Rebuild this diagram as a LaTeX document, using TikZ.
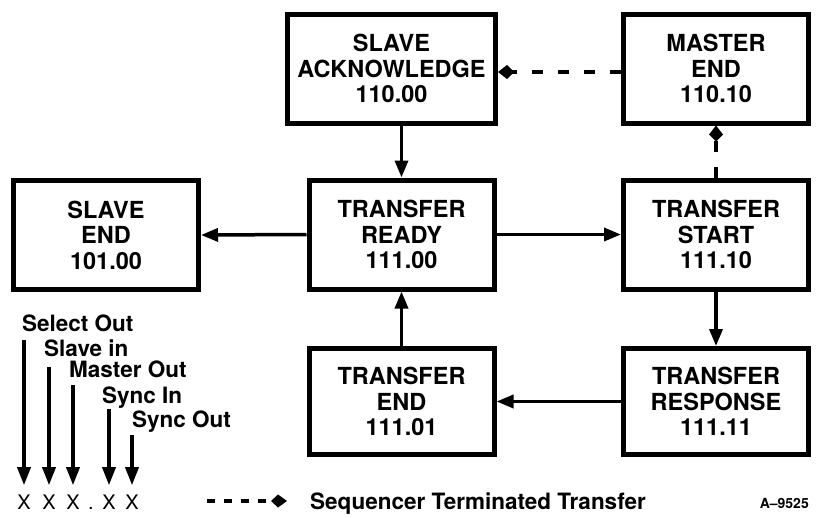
\documentclass[tikz,border=0pt]{standalone}
\usepackage{fontspec}
\setmainfont{TeX Gyre Heros}
\usetikzlibrary{arrows.meta}
\begin{document}
\begin{tikzpicture}[x=1pt,y=-1pt,
  box/.style={draw, line width=5pt, inner sep=0pt, minimum width=185pt,
    minimum height=109pt, align=center,
    font=\fontsize{23.5}{25.5}\selectfont\bfseries},
  conn/.style={line width=3.5pt, -{Triangle[length=17pt,width=13pt]}},
  dconn/.style={line width=4pt, dash pattern=on 11pt off 15pt,
    -{Kite[length=16pt,width=14pt,inset=7pt]}},
  legconn/.style={line width=3.5pt, -{Triangle[length=18pt,width=13pt]}, shorten >=9pt},
  lab/.style={anchor=base west, inner sep=0pt,
    font=\fontsize{22.5}{24}\selectfont\bfseries},
  xch/.style={inner sep=0pt, anchor=base, font=\fontsize{20}{22}\selectfont},
]
\useasboundingbox (0,0) rectangle (817,517);

% state boxes
\node[box, minimum width=208pt] (sack) at (391.5,68.5) {SLAVE\\ACKNOWLEDGE\\110.00};
\node[box] (mend)   at (716,68.5)   {MASTER\\END\\110.10};
\node[box] (send)   at (106,235)    {SLAVE\\END\\101.00};
\node[box] (tready) at (401.5,234.5) {TRANSFER\\READY\\111.00};
\node[box] (tstart) at (716,234.5)  {TRANSFER\\START\\111.10};
\node[box, minimum height=106pt] (tend)   at (401.5,401.5) {TRANSFER\\END\\111.01};
\node[box, minimum height=106pt] (tresp)  at (716,401.5)   {TRANSFER\\RESPONSE\\111.11};

% solid transitions
\draw[conn] (sack.south -| tready.north) -- (tready.north);
\draw[conn] (tready.west) -- (send.east);
\draw[conn] (tready.east) -- (tstart.west);
\draw[conn] (tstart.south) -- (tresp.north);
\draw[conn] (tresp.west) -- (tend.east);
\draw[conn] (tend.north) -- (tready.south);

% sequencer terminated transfers
\draw[dconn] (tstart.north) -- (mend.south);
\draw[dconn] ([yshift=-3.5pt]mend.west) -- ([yshift=-3.5pt]sack.east);

% legend labels
\node[lab] (l1) at (22,331) {Select Out};
\node[lab] (l2) at (44,356) {Slave in};
\node[lab] (l3) at (69,377) {Master Out};
\node[lab] (l4) at (102,403) {Sync In};
\node[lab] (l5) at (132,427) {Sync Out};

\coordinate (s1) at (24,340);
\coordinate (s2) at (49,367);
\coordinate (s3) at (73,385);
\coordinate (s4) at (109,409);
\coordinate (s5) at (132,435);

\node[xch] (x1) at (24,509) {X};
\node[xch] (x2) at (49,509) {X};
\node[xch] (x3) at (73,509) {X};
\node[xch] (xd) at (91,509) {.};
\node[xch] (x4) at (109,509) {X};
\node[xch] (x5) at (132,509) {X};

\draw[legconn] (s1) -- (x1.north);
\draw[legconn] (s2) -- (x2.north);
\draw[legconn] (s3) -- (x3.north);
\draw[legconn] (s4) -- (x4.north);
\draw[legconn] (s5) -- (x5.north);

% dashed legend
\coordinate (d0) at (207,501);
\coordinate (d1) at (287,501);
\draw[line width=4pt, dash pattern=on 8pt off 9pt,
  -{Kite[length=16pt,width=13pt,inset=7pt]}] (d0) -- (d1);
\node[lab] (seq) at (310,509) {Sequencer Terminated Transfer};

% figure id
\node[inner sep=0pt, anchor=base east, font=\fontsize{14}{16}\selectfont\bfseries]
  (fig) at (809,508) {A–9525};
\end{tikzpicture}
\end{document}
